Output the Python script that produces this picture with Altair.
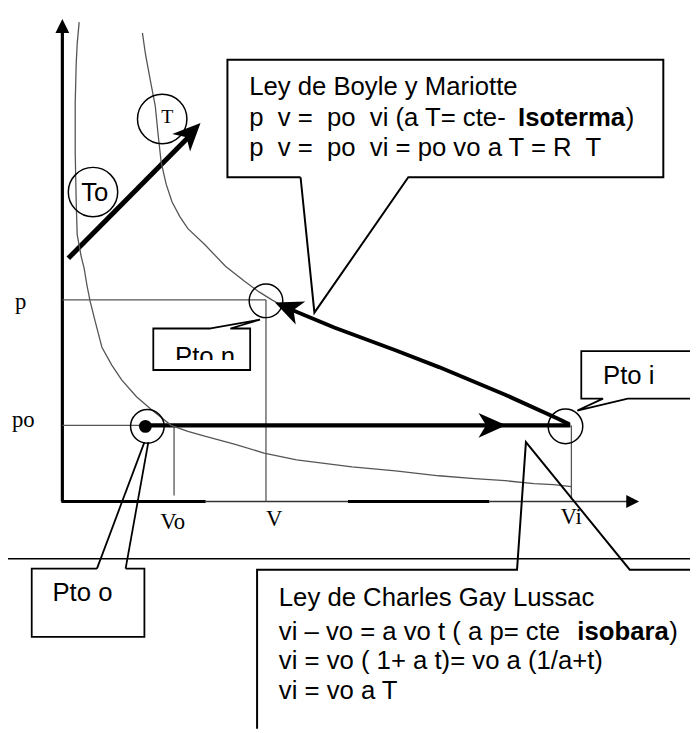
import altair as alt
import pandas as pd

# ---------------- data (diagram coordinates, page pixels) ----------------
# isotherm at To (left curve)
iso_To_x = [80, 78, 77, 76, 76, 77, 78, 82, 85, 88, 91, 96, 103, 113, 123, 138, 153, 173, 190, 207, 237, 267, 300, 356, 400, 444, 480, 511, 540, 560, 578]
iso_To_y = [18, 40, 60, 100, 150, 200, 233, 255, 267, 285, 300, 320, 347, 365, 380, 397, 410, 426, 432, 437, 445, 454, 461, 468, 472, 477, 480, 482, 485, 486, 488]
# isotherm at T (right curve)
iso_T_x = [144, 147, 152, 157, 160, 163, 168, 174, 182, 190, 207, 228, 247, 262, 275, 282]
iso_T_y = [29, 50, 77, 103, 133, 160, 182, 200, 215, 227, 243, 265, 280, 291, 299, 303]
# isothermal path from Pto i to Pto n
path_x = [290, 338, 400, 444, 511, 564, 576]
path_y = [307, 327, 350, 367, 395, 419, 425]

# straight segments: x, y, x2, y2, width, colour
seg_x1 = [63, 62, 208, 352, 495, 63, 269, 63, 176, 578, 150, 69, 8, 98, 127]
seg_y1 = [29, 503, 503, 503, 503, 299, 299, 426, 426, 426, 426, 257, 561, 571, 571]
seg_x2 = [63, 208, 352, 495, 636, 269, 269, 150, 176, 578, 577, 194, 698, 146, 150]
seg_y2 = [503, 503, 503, 503, 503, 299, 503, 426, 497, 501, 426, 131, 561, 443, 443]
seg_w = [3.2, 3, 1.5, 3, 1.5, 1.3, 1.3, 1.3, 1.3, 1.3, 4.5, 5, 1.5, 1.8, 1.8]
seg_c = ["#000", "#000", "#333", "#000", "#333", "#555", "#555", "#555", "#555", "#555", "#000", "#000", "#000", "#000", "#000"]

# callout boxes (polylines)
box_boyle_x = [304, 230, 230, 671, 671, 413, 318, 304]
box_boyle_y = [175, 175, 56, 56, 175, 175, 312, 175]
box_n_x = [213, 155, 155, 253, 253, 233, 263, 213]
box_n_y = [328, 328, 370, 370, 328, 328, 319, 328]
box_i_x = [698, 588, 588, 610, 584, 635, 698]
box_i_y = [351, 351, 399, 399, 411, 399, 399]
box_o_x = [98, 32, 32, 146, 146, 127]
box_o_y = [571, 571, 640, 640, 571, 571]
box_c_x = [260, 260, 523, 532, 637, 698]
box_c_y = [733, 572, 572, 443, 572, 572]

# circles: x, y, diameter
circ_x = [164, 94, 269, 149, 572]
circ_y = [116, 190, 300, 427, 427]
circ_d = [50, 50, 34, 34, 35]
dot_x = [147]
dot_y = [427]

# arrowheads: x, y, angle, size, shape
TRI = "M1,0L-1,-1L-1,1Z"
BARB = "M1,0L-1,-0.9L-0.45,0L-1,0.9Z"
head_x = [63, 640, 498, 193, 291]
head_y = [22, 503, 426, 130, 307]
head_a = [270, 0, 0, 314.4, 202.5]
head_len = [14, 13, 28, 28, 28]
head_shape = [TRI, TRI, BARB, BARB, BARB]

# texts
sans_text = ["Ley de Boyle y Mariotte",
             "p\u00a0 v =\u00a0 po\u00a0 vi (a T= cte- ",
             ")",
             "p\u00a0 v =\u00a0 po\u00a0 vi = po vo a T = R\u00a0 T",
             "Ley de Charles Gay Lussac",
             "vi \u2013 vo = a vo t ( a p= cte ",
             ")",
             "vi = vo ( 1+ a t)= vo a (1/a+t)",
             "vi = vo a T",
             "Pto i", "Pto o", "Pto n", "To"]
sans_x = [252, 252, 633, 252, 282, 282, 677, 282, 282, 610, 53, 177, 82]
sans_y = [92, 123, 123, 153, 609, 643, 643, 673, 703, 384, 604, 365, 199]
bold_text = ["Isoterma", "isobara"]
bold_x = [524, 584]
bold_y = [123, 643]
serif_text = ["p", "po", "Vo", "V", "Vi"]
serif_x = [15, 12, 162, 269, 567]
serif_y = [308, 428, 531, 528, 526]
t_text = ["T"]
t_x = [163]
t_y = [120]

# mask that cuts the bottom of the "Pto n" label
mask_x, mask_x2, mask_y, mask_y2 = [157], [251], [360], [369]

# ---------------- chart ----------------
X = alt.Scale(domain=[8, 698], nice=False, zero=False)
Y = alt.Scale(domain=[8, 733], nice=False, zero=False, reverse=True)


def poly_df(pairs):
    rows = []
    for pid, (xs, ys, w, c) in enumerate(pairs):
        for i, (a, b) in enumerate(zip(xs, ys)):
            rows.append({"id": pid, "i": i, "x": a, "y": b, "w": w, "c": c})
    return pd.DataFrame(rows)


seg_df = pd.DataFrame({"x": seg_x1, "y": seg_y1, "x2": seg_x2, "y2": seg_y2, "w": seg_w, "c": seg_c})
segs = alt.Chart(seg_df).mark_rule(strokeCap="butt").encode(
    x=alt.X("x:Q", scale=X, axis=None), y=alt.Y("y:Q", scale=Y, axis=None),
    x2="x2:Q", y2="y2:Q",
    strokeWidth=alt.StrokeWidth("w:Q", scale=None),
    color=alt.Color("c:N", scale=None),
)

lines_df = poly_df([
    (iso_To_x, iso_To_y, 1.3, "#555"),
    (iso_T_x, iso_T_y, 1.3, "#555"),
    (path_x, path_y, 4, "#000"),
    (box_boyle_x, box_boyle_y, 2, "#000"),
    (box_n_x, box_n_y, 1.8, "#000"),
    (box_i_x, box_i_y, 1.8, "#000"),
    (box_o_x, box_o_y, 1.8, "#000"),
    (box_c_x, box_c_y, 2, "#000"),
])
lines = alt.Chart(lines_df).mark_line(interpolate="linear", strokeJoin="miter").encode(
    x=alt.X("x:Q", scale=X, axis=None), y=alt.Y("y:Q", scale=Y, axis=None),
    detail="id:N", order="i:Q",
    strokeWidth=alt.StrokeWidth("w:Q", scale=None),
    color=alt.Color("c:N", scale=None),
)

circ_df = pd.DataFrame({"x": circ_x, "y": circ_y, "s": [d * d for d in circ_d]})
circles = alt.Chart(circ_df).mark_point(shape="circle", filled=False, color="#000", strokeWidth=1.5, opacity=1).encode(
    x=alt.X("x:Q", scale=X, axis=None), y=alt.Y("y:Q", scale=Y, axis=None),
    size=alt.Size("s:Q", scale=None),
)

dot = alt.Chart(pd.DataFrame({"x": dot_x, "y": dot_y})).mark_point(
    shape="circle", filled=True, color="#000", size=169, opacity=1
).encode(x=alt.X("x:Q", scale=X, axis=None), y=alt.Y("y:Q", scale=Y, axis=None))

head_df = pd.DataFrame({"x": head_x, "y": head_y, "a": head_a,
                        "s": [L * L for L in head_len], "sh": head_shape})
heads = alt.Chart(head_df).mark_point(filled=True, color="#000", opacity=1, strokeWidth=0).encode(
    x=alt.X("x:Q", scale=X, axis=None), y=alt.Y("y:Q", scale=Y, axis=None),
    angle=alt.Angle("a:Q", scale=None),
    size=alt.Size("s:Q", scale=None),
    shape=alt.Shape("sh:N", scale=None),
)


def text_layer(txt, xs, ys, **kw):
    df = pd.DataFrame({"t": txt, "x": xs, "y": ys})
    return alt.Chart(df).mark_text(align="left", baseline="alphabetic", color="#000", **kw).encode(
        x=alt.X("x:Q", scale=X, axis=None), y=alt.Y("y:Q", scale=Y, axis=None), text="t:N"
    )


sans = text_layer(sans_text, sans_x, sans_y, font="Liberation Sans", fontSize=26)
bold = text_layer(bold_text, bold_x, bold_y, font="Liberation Sans", fontSize=26, fontWeight="bold")
serif = text_layer(serif_text, serif_x, serif_y, font="Liberation Serif", fontSize=23)
tser = text_layer(t_text, t_x, t_y, font="Liberation Serif", fontSize=20)

mask = alt.Chart(pd.DataFrame({"x": mask_x, "x2": mask_x2, "y": mask_y, "y2": mask_y2})).mark_rect(
    color="#fff", opacity=1
).encode(x=alt.X("x:Q", scale=X, axis=None), x2="x2:Q", y=alt.Y("y:Q", scale=Y, axis=None), y2="y2:Q")

chart = alt.layer(segs, lines, circles, dot, heads, sans, bold, serif, tser, mask).properties(
    width=690, height=725, padding=0, autosize="none", background="#ffffff"
).configure_view(stroke=None)

chart.save("out.html", embed_options={"renderer": "svg", "actions": False})
